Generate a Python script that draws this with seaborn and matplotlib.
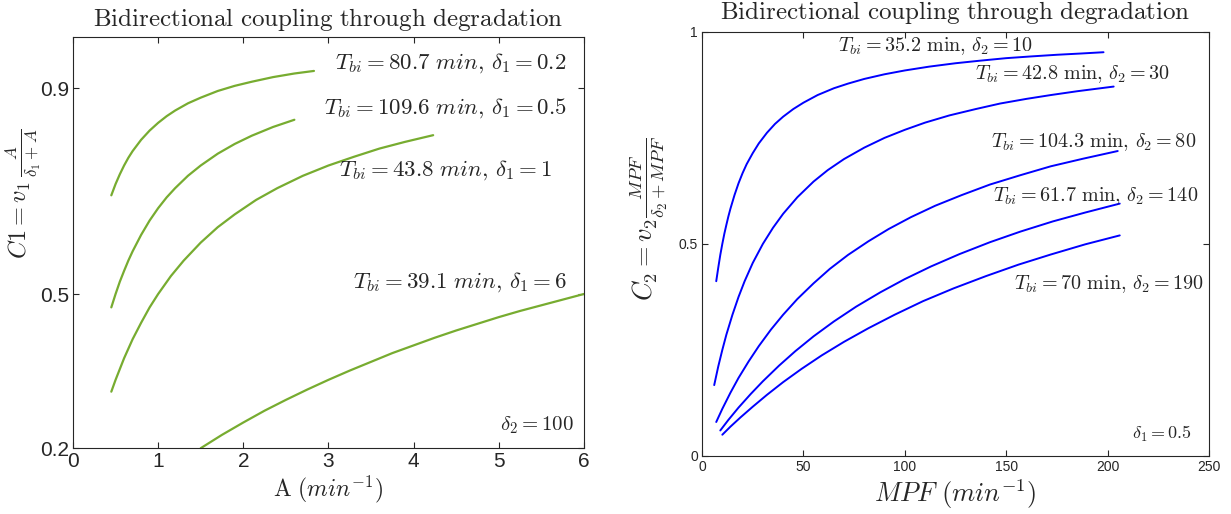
import matplotlib
matplotlib.use('Agg')
import matplotlib.pyplot as plt
import seaborn as sns

sns.set_style('ticks')
plt.rcParams['font.family'] = ['Liberation Sans', 'DejaVu Sans']
plt.rcParams['mathtext.fontset'] = 'cm'

# ---- left panel data: A vs C1 for different delta_1 ----
a_d02 = [0.45, 0.5, 0.55, 0.6, 0.65, 0.7, 0.8, 0.9, 1.0, 1.1, 1.2, 1.35, 1.5,
         1.7, 1.9, 2.1, 2.35, 2.6, 2.83]
c1_d02 = [0.692, 0.714, 0.733, 0.750, 0.765, 0.778, 0.800, 0.818, 0.833, 0.846,
          0.857, 0.871, 0.882, 0.895, 0.905, 0.913, 0.922, 0.929, 0.934]
a_d05 = [0.45, 0.5, 0.55, 0.6, 0.65, 0.7, 0.8, 0.9, 1.0, 1.1, 1.2, 1.35, 1.5,
         1.7, 1.9, 2.1, 2.35, 2.6]
c1_d05 = [0.474, 0.500, 0.524, 0.545, 0.565, 0.583, 0.615, 0.643, 0.667, 0.688,
          0.706, 0.730, 0.750, 0.773, 0.792, 0.808, 0.825, 0.839]
a_d1 = [0.45, 0.5, 0.6, 0.7, 0.8, 0.9, 1.0, 1.15, 1.3, 1.5, 1.7, 1.9, 2.15,
        2.4, 2.7, 3.0, 3.3, 3.6, 3.9, 4.23]
c1_d1 = [0.310, 0.333, 0.375, 0.412, 0.444, 0.474, 0.500, 0.535, 0.565, 0.600,
         0.630, 0.655, 0.683, 0.706, 0.730, 0.750, 0.767, 0.783, 0.796, 0.809]
a_d6 = [1.5, 1.75, 2.0, 2.25, 2.5, 2.75, 3.0, 3.25, 3.5, 3.75, 4.0, 4.25, 4.5,
        4.75, 5.0, 5.25, 5.5, 5.75, 6.0]
c1_d6 = [0.200, 0.226, 0.250, 0.273, 0.294, 0.314, 0.333, 0.351, 0.368, 0.385,
         0.400, 0.415, 0.429, 0.442, 0.455, 0.467, 0.478, 0.489, 0.500]

left_labels = [r'$T_{bi} = 80.7\ min,\,\delta_1 = 0.2$',
               r'$T_{bi} = 109.6\ min,\,\delta_1 = 0.5$',
               r'$T_{bi} = 43.8\ min,\,\delta_1 = 1$',
               r'$T_{bi} = 39.1\ min,\,\delta_1 = 6$']

# ---- right panel data: MPF vs C2 for different delta_2 ----
m_d10 = [7, 8, 9, 10, 11, 12, 13, 14, 16, 18, 20, 22, 25, 28, 32, 36, 40, 45,
         50, 57, 65, 72, 80, 90, 100, 112, 125, 137, 150, 162, 175, 187, 198]
c2_d10 = [0.412, 0.444, 0.474, 0.500, 0.524, 0.545, 0.565, 0.583, 0.615, 0.643,
          0.667, 0.688, 0.714, 0.737, 0.762, 0.783, 0.800, 0.818, 0.833, 0.851,
          0.867, 0.878, 0.889, 0.900, 0.909, 0.918, 0.926, 0.932, 0.938, 0.942,
          0.946, 0.949, 0.952]
m_d30 = [6, 8, 10, 12, 15, 18, 21, 25, 30, 35, 40, 47, 55, 62, 70, 80, 90, 100,
         110, 122, 135, 147, 160, 172, 185, 203]
c2_d30 = [0.167, 0.211, 0.250, 0.286, 0.333, 0.375, 0.412, 0.455, 0.500, 0.538,
          0.571, 0.610, 0.647, 0.674, 0.700, 0.727, 0.750, 0.769, 0.786, 0.803,
          0.818, 0.831, 0.842, 0.851, 0.860, 0.871]
m_d80 = [7, 10, 14, 18, 23, 28, 34, 40, 47, 55, 63, 72, 82, 92, 103, 115, 128,
         142, 157, 172, 188, 205]
c2_d80 = [0.080, 0.111, 0.149, 0.184, 0.223, 0.259, 0.298, 0.333, 0.370, 0.407,
          0.441, 0.474, 0.506, 0.535, 0.563, 0.590, 0.615, 0.640, 0.662, 0.683,
          0.701, 0.719]
m_d140 = [9, 13, 18, 24, 30, 38, 46, 55, 65, 76, 88, 100, 113, 127, 142, 157,
          173, 189, 206]
c2_d140 = [0.060, 0.085, 0.114, 0.146, 0.176, 0.213, 0.247, 0.282, 0.317, 0.352,
           0.386, 0.417, 0.447, 0.476, 0.504, 0.529, 0.553, 0.574, 0.595]
m_d190 = [10, 14, 19, 25, 32, 40, 49, 59, 70, 82, 95, 109, 124, 140, 156, 172,
          189, 206]
c2_d190 = [0.050, 0.069, 0.091, 0.116, 0.144, 0.174, 0.205, 0.237, 0.269, 0.301,
           0.333, 0.365, 0.395, 0.424, 0.451, 0.475, 0.499, 0.520]

right_labels = [r'$T_{bi} = 35.2\ \mathrm{min},\,\delta_2 = 10$',
                r'$T_{bi} = 42.8\ \mathrm{min},\,\delta_2 = 30$',
                r'$T_{bi} = 104.3\ \mathrm{min},\,\delta_2 = 80$',
                r'$T_{bi} = 61.7\ \mathrm{min},\,\delta_2 = 140$',
                r'$T_{bi} = 70\ \mathrm{min},\,\delta_2 = 190$']

GREEN = '#77AC30'
BLUE = '#0000FF'
TITLE = r'$\mathrm{Bidirectional\ coupling\ through\ degradation}$'

fig = plt.figure(figsize=(12.31, 5.14), dpi=100)
ax1 = fig.add_axes([0.0593, 0.128, 0.415, 0.800])
ax2 = fig.add_axes([0.5703, 0.113, 0.4118, 0.825])

def style_axes(ax, size):
    for s in ax.spines.values():
        s.set_visible(True)
        s.set_color('#262626')
        s.set_linewidth(0.8)
    ax.tick_params(direction='in', top=True, right=True, length=4,
                   labelsize=size, colors='#262626', pad=3)
    ax.grid(False)

# left panel
for xs, ys in [(a_d02, c1_d02), (a_d05, c1_d05), (a_d1, c1_d1), (a_d6, c1_d6)]:
    sns.lineplot(x=xs, y=ys, ax=ax1, color=GREEN, linewidth=1.6, sort=False)
ax1.set_xlim(0, 6)
ax1.set_ylim(0.2, 1.0)
ax1.set_xticks([0, 1, 2, 3, 4, 5, 6])
ax1.set_yticks([0.2, 0.5, 0.9])
style_axes(ax1, 15)
ax1.set_title(TITLE, fontsize=18, pad=8)
ax1.set_xlabel(r'$\mathrm{A}\ (min^{-1})$', fontsize=17, labelpad=2)
ax1.set_ylabel(r'$C1 = v_1\,\frac{A}{\delta_1 + A}$', fontsize=17.5)
ax1.yaxis.set_label_coords(-0.058, 0.62)

left_pos = [(0.967, 0.937), (0.967, 0.827), (0.937, 0.676), (0.967, 0.404)]
for (tx, ty), lab in zip(left_pos, left_labels):
    ax1.text(tx, ty, lab, transform=ax1.transAxes, ha='right', va='center', fontsize=16.5)
ax1.text(0.98, 0.056, r'$\delta_2 = 100$', transform=ax1.transAxes,
         ha='right', va='center', fontsize=15)

# right panel
for xs, ys in [(m_d10, c2_d10), (m_d30, c2_d30), (m_d80, c2_d80),
               (m_d140, c2_d140), (m_d190, c2_d190)]:
    sns.lineplot(x=xs, y=ys, ax=ax2, color=BLUE, linewidth=1.4, sort=False)
ax2.set_xlim(0, 250)
ax2.set_ylim(0, 1)
ax2.set_xticks([0, 50, 100, 150, 200, 250])
ax2.set_yticks([0, 0.5, 1])
ax2.set_yticklabels(['0', '0.5', '1'])
style_axes(ax2, 10)
ax2.set_title(TITLE, fontsize=18, pad=9)
ax2.set_xlabel(r'$MPF\ (min^{-1})$', fontsize=19, labelpad=2)
ax2.set_ylabel(r'$C_2 = v_2\frac{MPF}{\delta_2 + MPF}$', fontsize=19)
ax2.yaxis.set_label_coords(-0.063, 0.56)

right_pos = [('left', 0.268, 0.967), ('left', 0.538, 0.900), ('right', 0.976, 0.741),
             ('right', 0.978, 0.613), ('right', 0.99, 0.406)]
for (ha, tx, ty), lab in zip(right_pos, right_labels):
    ax2.text(tx, ty, lab, transform=ax2.transAxes, ha=ha, va='center', fontsize=14.5)
ax2.text(0.966, 0.052, r'$\delta_1 = 0.5$', transform=ax2.transAxes,
         ha='right', va='center', fontsize=13)

fig.savefig('out.png', dpi=100, facecolor='white')
plt.close(fig)
